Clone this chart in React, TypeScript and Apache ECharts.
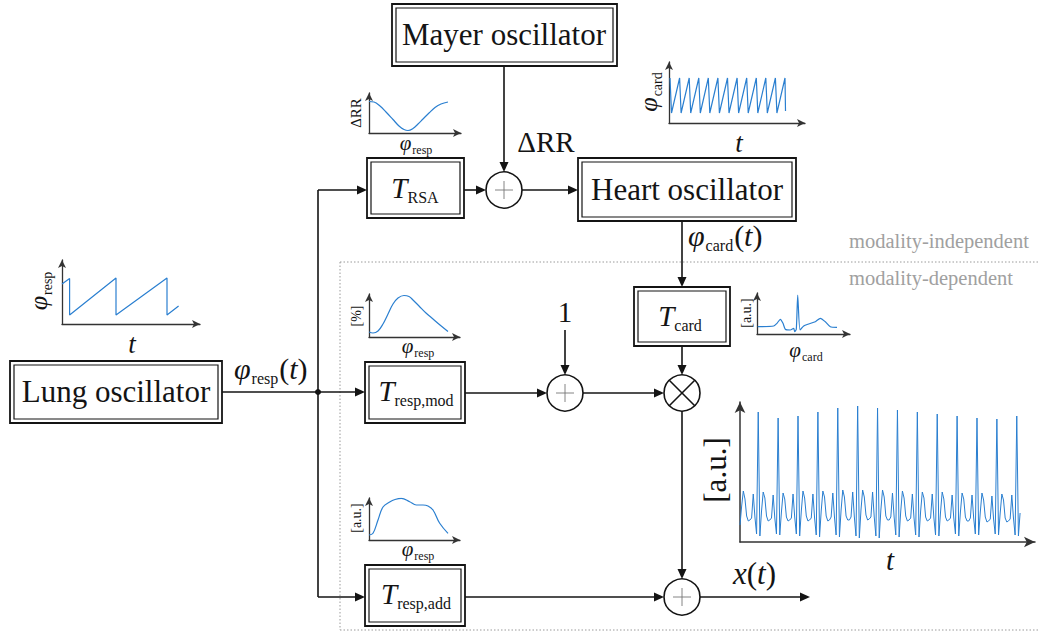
import React, { useEffect, useRef } from 'react';
import * as echarts from 'echarts';

// ---- inset plot data (units: plot pixels above / right of each inset's origin) ----

// RSA transfer: ΔRR over respiratory phase
const RSA_PHI = [0, 5, 11, 17, 24, 30, 35, 39, 44, 49, 54, 60, 66, 72, 79];
const RSA_DRR = [31.5, 31, 27, 21, 13.5, 7, 3.5, 2.5, 4.5, 9, 14, 20, 25.5, 29, 31];

// cardiac phase sawtooth over time
const CARD_T = [1, 2.5, 10.6, 12.1, 20.2, 21.7, 29.8, 31.3, 39.3, 40.8, 48.9, 50.4, 58.5, 60, 68.1, 69.6, 77.7, 79.2, 87.3, 88.8, 96.8, 98.3, 106.4, 107.9, 116, 116.5];
const CARD_PHASE = [45, 10, 45, 10, 45, 10, 45, 10, 45, 10, 45, 10, 45, 10, 45, 10, 45, 10, 45, 10, 45, 10, 45, 10, 45, 12];

// respiratory phase sawtooth over time
const RESP_T = [0, 7.6, 7.6, 54, 54, 105, 105, 116.6];
const RESP_PHASE = [40, 45.5, 9, 46, 9, 46, 9, 18];

// multiplicative respiratory modulation [%]
const MOD_PHI = [0, 4, 9, 14, 19, 24, 29, 35, 40, 44, 50, 57, 64, 71, 79];
const MOD_PCT = [5, 4, 6, 13, 23, 33, 39, 41.5, 40.5, 37, 31, 24, 18, 12, 5.5];

// cardiac pulse shape [a.u.]
const PULSE_PHI = [0.7, 16.7, 20, 23.3, 26, 28.3, 33.3, 36.7, 37.7, 39.3, 40.7, 43, 46.7, 51.7, 58.3, 63.3, 68.3, 73.3, 80];
const PULSE_AU = [7.3, 8, 10.7, 14.7, 10.7, 4.7, 4, 5.7, 2.3, 4.7, 39, 4, 8, 10, 12.3, 15.7, 12.3, 7.3, 6.7];

// additive respiratory component [a.u.]
const ADD_PHI = [0, 4, 9, 14, 20.7, 26, 32.3, 40.7, 47.3, 54, 59, 64, 70.7, 79];
const ADD_AU = [5, 6.7, 20, 33, 38, 40.5, 41.7, 38.3, 35, 35, 34, 30, 16.7, 6.7];

// output signal x(t), one value per sample
const SIGNAL = [
  17, 36, 51, 43, 26, 21, 22, 24, 48, 25, 8,
  130, 6, 31, 50, 44, 26, 21, 22, 24, 47, 24, 8,
  124, 7, 30, 49, 43, 25, 21, 22, 24, 48, 25, 8,
  126, 6, 31, 51, 44, 26, 21, 22, 24, 48, 24, 7,
  130, 5, 31, 51, 45, 26, 21, 22, 25, 49, 25, 7,
  134, 5, 32, 52, 45, 26, 22, 22, 25, 50, 25, 6,
  136, 4, 32, 52, 45, 27, 22, 23, 25, 50, 25, 6,
  134, 4, 32, 52, 45, 26, 22, 22, 25, 49, 25, 7,
  132, 5, 31, 51, 44, 26, 21, 22, 24, 48, 24, 7,
  130, 5, 31, 50, 44, 25, 21, 22, 24, 48, 24, 7,
  128, 6, 30, 50, 43, 25, 21, 22, 24, 47, 24, 8,
  126, 6, 30, 49, 43, 25, 21, 21, 24, 47, 24, 8,
  124, 7, 30, 49, 42, 25, 20, 21, 23, 46, 23, 8,
  123, 7, 29, 48, 42, 24, 20, 21, 23, 47, 24, 7,
  126, 6, 29,
];

// ---- styling ----
const SERIF = '"Liberation Serif", "Times New Roman", serif';
const INK = '#141414';
const AXIS = '#333';
const BLUE = '#2a7fd0';
const GREY_TXT = '#a0a0a0';
const LW = 1.6;
const MID = 0.34; // distance from text centre to baseline, in em

let measureCtx: CanvasRenderingContext2D | null = null;
function textWidth(s: string, size: number, italic: boolean) {
  if (!measureCtx) measureCtx = document.createElement('canvas').getContext('2d');
  measureCtx!.font = `${italic ? 'italic ' : ''}${size}px ${SERIF}`;
  return measureCtx!.measureText(s).width;
}

type Seg = { s: string; size: number; italic?: boolean; dy?: number; dx?: number };

// a run of text pieces on a shared baseline; dy lowers a piece (subscripts)
function mathText(
  segs: Seg[],
  x: number,
  baseline: number,
  opts: { anchor?: 'left' | 'center'; color?: string; rotation?: number } = {}
) {
  const anchor = opts.anchor || 'center';
  const color = opts.color || INK;
  const widths = segs.map((g) => textWidth(g.s, g.size, !!g.italic));
  const total = widths.reduce((a, b) => a + b, 0) + segs.reduce((a, g) => a + (g.dx || 0), 0);
  let cx = anchor === 'center' ? -total / 2 : 0;
  const children = segs.map((g, i) => {
    cx += g.dx || 0;
    const el = {
      type: 'text',
      x: cx,
      y: (g.dy || 0) - MID * g.size,
      silent: true,
      style: {
        text: g.s,
        font: `${g.italic ? 'italic ' : ''}${g.size}px ${SERIF}`,
        fill: color,
        align: 'left',
        verticalAlign: 'middle',
        textAlign: 'left',
        textVerticalAlign: 'middle',
      },
    };
    cx += widths[i];
    return el;
  });
  return { type: 'group', x, y: baseline, rotation: opts.rotation || 0, children };
}

const phiSub = (sub: string, size: number, subSize: number, dy: number): Seg[] => [
  { s: 'φ', size, italic: true },
  { s: sub, size: subSize, dy, dx: 1 },
];

function arrow(x1: number, y1: number, x2: number, y2: number, len = 10, half = 4.5) {
  const dx = x2 - x1;
  const dy = y2 - y1;
  const d = Math.hypot(dx, dy);
  const ux = dx / d;
  const uy = dy / d;
  const bx = x2 - ux * len;
  const by = y2 - uy * len;
  return [
    { type: 'line', silent: true, shape: { x1, y1, x2: bx + ux, y2: by + uy }, style: { stroke: INK, lineWidth: LW } },
    {
      type: 'polygon',
      silent: true,
      shape: { points: [[x2, y2], [bx - uy * half, by + ux * half], [bx + uy * half, by - ux * half]] },
      style: { fill: INK },
    },
  ];
}

function segment(x1: number, y1: number, x2: number, y2: number) {
  return { type: 'line', silent: true, shape: { x1, y1, x2, y2 }, style: { stroke: INK, lineWidth: LW } };
}

function box(x: number, y: number, w: number, h: number) {
  return [
    { type: 'rect', silent: true, shape: { x, y, width: w, height: h }, style: { fill: '#fff', stroke: INK, lineWidth: 1.8 } },
    { type: 'rect', silent: true, shape: { x: x + 4, y: y + 4, width: w - 8, height: h - 8 }, style: { fill: 'none', stroke: INK, lineWidth: 1.2 } },
  ];
}

function sumNode(cx: number, cy: number, r = 18) {
  return [
    { type: 'circle', silent: true, shape: { cx, cy, r }, style: { fill: '#fff', stroke: INK, lineWidth: LW } },
    { type: 'line', silent: true, shape: { x1: cx - 9, y1: cy, x2: cx + 9, y2: cy }, style: { stroke: '#777', lineWidth: 0.9 } },
    { type: 'line', silent: true, shape: { x1: cx, y1: cy - 9, x2: cx, y2: cy + 9 }, style: { stroke: '#777', lineWidth: 0.9 } },
  ];
}

function mulNode(cx: number, cy: number, r = 18) {
  const k = r / Math.SQRT2;
  return [
    { type: 'circle', silent: true, shape: { cx, cy, r }, style: { fill: '#fff', stroke: INK, lineWidth: LW } },
    { type: 'line', silent: true, shape: { x1: cx - k, y1: cy - k, x2: cx + k, y2: cy + k }, style: { stroke: INK, lineWidth: LW } },
    { type: 'line', silent: true, shape: { x1: cx - k, y1: cy + k, x2: cx + k, y2: cy - k }, style: { stroke: INK, lineWidth: LW } },
  ];
}

function dotted(x1: number, y1: number, x2: number, y2: number) {
  return {
    type: 'line',
    silent: true,
    shape: { x1, y1, x2, y2 },
    style: { stroke: '#9a9a9a', lineWidth: 1, lineDash: [1.5, 2] },
  };
}

const zip = (xs: number[], ys: number[]) => xs.map((x, i) => [x, ys[i]]);

// inset layout: grid rectangle, axis ranges, data
const insets = [
  { grid: { left: 369, top: 93, width: 92, height: 40 }, xMax: 92, yMax: 40, data: zip(RSA_PHI, RSA_DRR), smooth: 0.4 },
  { grid: { left: 669, top: 62, width: 136, height: 61 }, xMax: 136, yMax: 61, data: zip(CARD_T, CARD_PHASE), smooth: 0 },
  { grid: { left: 62, top: 260, width: 138, height: 64 }, xMax: 138, yMax: 64, data: zip(RESP_T, RESP_PHASE), smooth: 0 },
  { grid: { left: 369, top: 294, width: 91, height: 43 }, xMax: 91, yMax: 43, data: zip(MOD_PHI, MOD_PCT), smooth: 0.4 },
  { grid: { left: 757, top: 293, width: 93, height: 41 }, xMax: 93, yMax: 41, data: zip(PULSE_PHI, PULSE_AU), smooth: 0.2 },
  { grid: { left: 369, top: 498, width: 91, height: 42 }, xMax: 91, yMax: 42, data: zip(ADD_PHI, ADD_AU), smooth: 0.4 },
  { grid: { left: 740, top: 402, width: 295, height: 140 }, xMax: 178, yMax: 140, data: SIGNAL.map((v, i) => [i, v]), smooth: 0, big: true },
];

function buildOption() {
  const axisLine = (big?: boolean) => ({
    show: true,
    onZero: false,
    symbol: ['none', 'arrow'],
    symbolSize: big ? [8, 11] : [6, 8],
    lineStyle: { color: AXIS, width: big ? 1.5 : 1.3 },
  });

  const grid = insets.map((p) => ({ ...p.grid }));
  const xAxis = insets.map((p, i) => ({
    type: 'value',
    gridIndex: i,
    min: 0,
    max: p.xMax,
    axisLine: axisLine(p.big),
    axisTick: { show: false },
    axisLabel: { show: false },
    splitLine: { show: false },
  }));
  const yAxis = insets.map((p, i) => ({
    type: 'value',
    gridIndex: i,
    min: 0,
    max: p.yMax,
    axisLine: axisLine(p.big),
    axisTick: { show: false },
    axisLabel: { show: false },
    splitLine: { show: false },
  }));
  const series = insets.map((p, i) => ({
    type: 'line',
    xAxisIndex: i,
    yAxisIndex: i,
    data: p.data,
    showSymbol: false,
    smooth: p.smooth,
    lineStyle: { color: BLUE, width: p.big ? 1 : 1.2 },
    silent: true,
  }));

  const up = Math.PI / 2;
  const elements: any[] = [
    // modality-dependent region
    dotted(340, 262, 1038, 262),
    dotted(340, 262, 340, 630),
    dotted(340, 630, 1038, 630),

    // signal paths
    ...arrow(504, 66, 504, 172),
    ...arrow(464, 190, 486, 190),
    ...arrow(522, 190, 578, 190),
    ...arrow(682, 221, 682, 287),
    segment(222, 392, 318, 392),
    ...arrow(318, 392, 365, 392),
    segment(318, 190, 318, 597),
    ...arrow(318, 190, 367, 190),
    ...arrow(318, 597, 365, 597),
    ...arrow(465, 393, 547, 393),
    ...arrow(565, 330, 565, 375),
    ...arrow(583, 393, 664, 393),
    ...arrow(682, 346, 682, 375),
    ...arrow(682, 411, 682, 579),
    ...arrow(465, 597, 664, 597),
    ...arrow(700, 597, 810, 597),
    { type: 'circle', silent: true, shape: { cx: 318, cy: 392, r: 3 }, style: { fill: INK } },

    // blocks
    ...box(392, 4, 225, 62),
    ...box(367, 158, 97, 60),
    ...box(578, 158, 218, 63),
    ...box(10, 361, 212, 62),
    ...box(365, 362, 100, 61),
    ...box(634, 287, 96, 59),
    ...box(365, 565, 100, 61),
    ...sumNode(504, 190),
    ...sumNode(565, 393),
    ...mulNode(682, 393),
    ...sumNode(682, 597),

    // block titles
    mathText([{ s: 'Mayer oscillator', size: 31 }], 504, 45),
    mathText([{ s: 'Heart oscillator', size: 31 }], 687, 200),
    mathText([{ s: 'Lung oscillator', size: 31 }], 116, 402),
    mathText([{ s: 'T', size: 29, italic: true }, { s: 'RSA', size: 16, dy: 5 }], 415, 198),
    mathText([{ s: 'T', size: 29, italic: true }, { s: 'resp,mod', size: 16, dy: 5 }], 416, 401),
    mathText([{ s: 'T', size: 29, italic: true }, { s: 'card', size: 16, dy: 5 }], 680, 326),
    mathText([{ s: 'T', size: 29, italic: true }, { s: 'resp,add', size: 16, dy: 5 }], 416, 604),

    // signal labels
    mathText([{ s: 'ΔRR', size: 29 }], 546, 152),
    mathText([...phiSub('card', 30, 16, 5), { s: '(', size: 30, dx: 1 }, { s: 't', size: 30, italic: true }, { s: ')', size: 30 }], 688, 246, { anchor: 'left' }),
    mathText([...phiSub('resp', 30, 16, 5), { s: '(', size: 30, dx: 1 }, { s: 't', size: 30, italic: true }, { s: ')', size: 30 }], 234, 379, { anchor: 'left' }),
    mathText([{ s: '1', size: 29 }], 565, 322),
    mathText([{ s: 'x', size: 31, italic: true }, { s: '(', size: 31 }, { s: 't', size: 31, italic: true }, { s: ')', size: 31 }], 733, 584, { anchor: 'left' }),
    mathText([{ s: 'modality-independent', size: 20.5 }], 849, 248, { anchor: 'left', color: GREY_TXT }),
    mathText([{ s: 'modality-dependent', size: 20.5 }], 849, 285, { anchor: 'left', color: GREY_TXT }),

    // inset axis titles
    mathText([{ s: 'ΔRR', size: 15 }], 361, 113, { rotation: up }),
    mathText(phiSub('resp', 21, 12, 4), 416, 150),
    mathText(phiSub('card', 26, 14, 5), 657, 92, { rotation: up }),
    mathText([{ s: 't', size: 27, italic: true }], 739, 152),
    mathText(phiSub('resp', 26, 14, 5), 47, 291, { rotation: up }),
    mathText([{ s: 't', size: 27, italic: true }], 132, 353),
    mathText([{ s: '[%]', size: 14 }], 361, 316, { rotation: up }),
    mathText(phiSub('resp', 21, 12, 4), 418, 353),
    mathText([{ s: '[a.u.]', size: 14 }], 751, 313, { rotation: up }),
    mathText(phiSub('card', 21, 12, 4), 806, 357),
    mathText([{ s: '[a.u.]', size: 14 }], 361, 518, { rotation: up }),
    mathText(phiSub('resp', 21, 12, 4), 418, 556),
    mathText([{ s: '[a.u.]', size: 31 }], 726, 470, { rotation: up }),
    mathText([{ s: 't', size: 29, italic: true }], 890, 570),
  ];

  return {
    animation: false,
    backgroundColor: '#fff',
    grid,
    xAxis,
    yAxis,
    series,
    graphic: { elements },
  };
}

export default function App() {
  const ref = useRef<HTMLDivElement>(null);
  useEffect(() => {
    document.body.style.margin = '0';
    const chart = echarts.init(ref.current!, null, { renderer: 'svg' });
    chart.setOption(buildOption() as any);
    return () => chart.dispose();
  }, []);
  return <div ref={ref} style={{ width: 1038, height: 634, background: '#fff' }} />;
}
